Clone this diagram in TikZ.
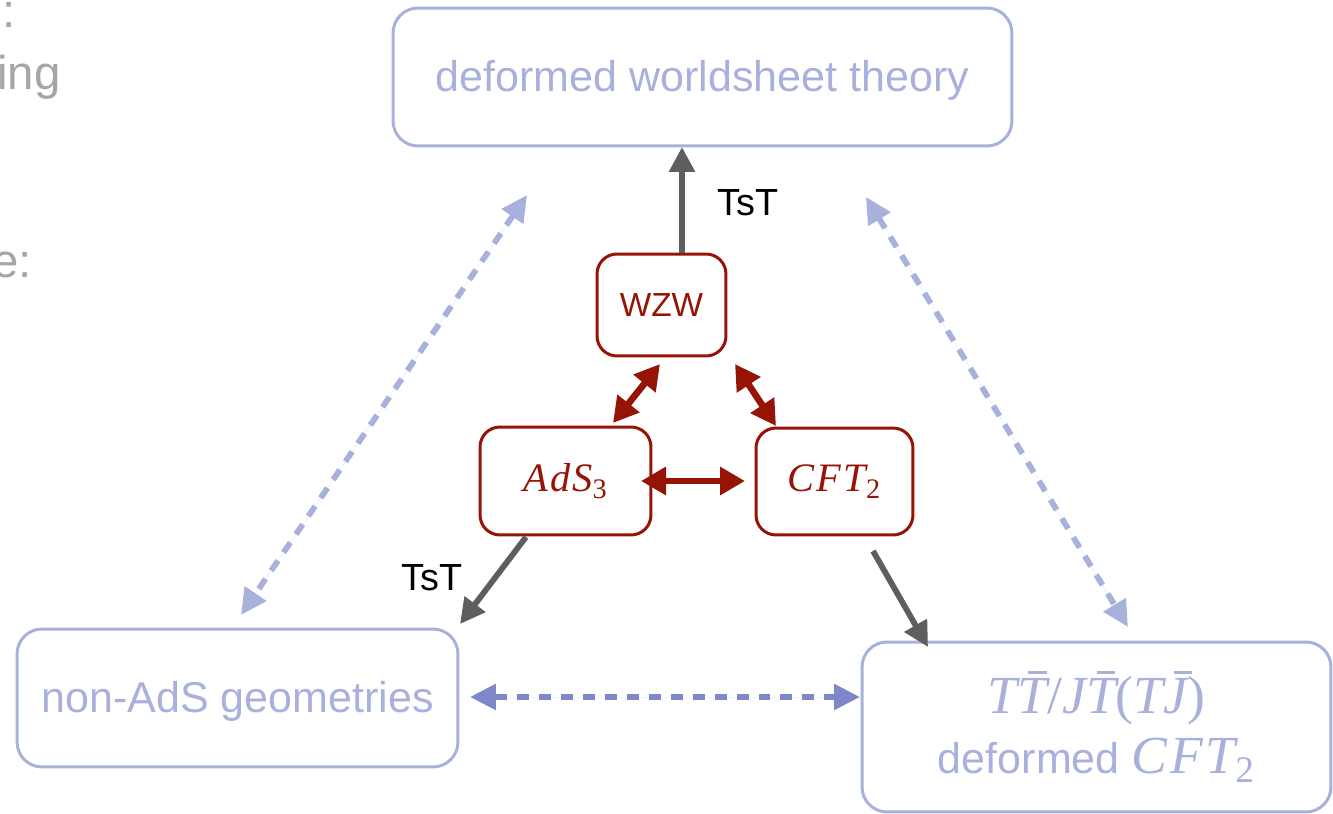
\documentclass[tikz,border=0pt]{standalone}
\usepackage{fontspec}
\setmainfont{Liberation Sans}
\newfontfamily\tmsfont[LetterSpace=5]{Liberation Serif}
\usetikzlibrary{arrows.meta}
\definecolor{lightbox}{RGB}{168,176,220}
\definecolor{linkblue}{RGB}{125,135,201}
\definecolor{darkred}{RGB}{150,20,5}
\definecolor{arrowgray}{RGB}{94,94,94}
\definecolor{slidegray}{RGB}{165,165,165}
\newcommand{\mth}[1]{{\tmsfont\itshape #1}}
\newcommand{\barred}[1]{\rlap{\hspace{0.2em}\rule[0.74em]{0.34em}{0.05em}}#1}

\tikzset{
  outerbox/.style={draw=lightbox, line width=1.7pt, rounded corners=0.5cm, inner sep=0pt,
    text=lightbox, align=center, font=\fontsize{24.5}{34}\selectfont},
  innerbox/.style={draw=darkred, line width=1.7pt, rounded corners=0.4cm, inner sep=0pt,
    text=darkred},
  tstarrow/.style={-{Triangle[length=0.5cm,width=0.5cm]}, line width=3.3pt, draw=arrowgray},
  redlink/.style={{Triangle[length=0.5cm,width=0.54cm]}-{Triangle[length=0.5cm,width=0.54cm]},
    line width=3.8pt, draw=darkred},
  duallink/.style={{Triangle[length=0.52cm,width=0.5cm]}-{Triangle[length=0.52cm,width=0.5cm]},
    line width=3.3pt, dash pattern=on 0.24cm off 0.2cm, draw=lightbox, fill=lightbox},
  tstlabel/.style={inner sep=0pt, font=\fontsize{21.5}{26}\selectfont},
  slidetext/.style={inner sep=0pt, text=slidegray, font=\fontsize{27}{32}\selectfont}
}

\begin{document}
\begin{tikzpicture}[x=0.02cm, y=-0.02cm]

  \useasboundingbox (0,0) rectangle (1333,814);

  \node[slidetext, anchor=base east] (clipa) at (16,28) {:};
  \node[slidetext, anchor=base east] (clipb) at (61,90) {ing};
  \node[slidetext, anchor=base east] (clipc) at (32,278) {e:};

  \node[outerbox, minimum width=12.38cm, minimum height=2.76cm, text height=17pt, text depth=0pt] (world) at (702.5,77) {deformed worldsheet theory};
  \node[outerbox, minimum width=8.82cm, minimum height=2.76cm, text height=17pt, text depth=0pt] (nonads) at (237.5,698) {non-AdS geometries};
  \node[outerbox, minimum width=9.38cm, minimum height=3.4cm] (ttbar) at (1096.5,727)
    {{\fontsize{30.5}{34}\selectfont\mth{T\barred{T}{\upshape/}J\barred{T}{\upshape(}T\barred{J}{\upshape)}}}\\
     deformed {\fontsize{30.5}{34}\selectfont\mth{CFT\textsubscript{\upshape 2}}}};

  \node[innerbox, minimum width=2.58cm, minimum height=2.04cm, font=\fontsize{19}{23}\selectfont] (wzw) at (661.5,305) {WZW};
  \node[innerbox, minimum width=3.42cm, minimum height=2.16cm, font=\fontsize{23}{27}\selectfont] (ads) at (565.5,481) {\mth{AdS\textsubscript{\upshape 3}}};
  \node[innerbox, minimum width=3.14cm, minimum height=2.14cm, font=\fontsize{23}{27}\selectfont] (cft) at (834.5,481.5) {\mth{CFT\textsubscript{\upshape 2}}};

  \coordinate (worldtip) at (682,147);
  \coordinate (adsout) at (526,537);
  \coordinate (nonadstip) at (460,624);
  \coordinate (cftout) at (873,551);
  \coordinate (ttbartip) at (928,647);

  \draw[tstarrow] (wzw.north -| worldtip) -- (worldtip);
  \draw[tstarrow] (adsout) -- (nonadstip);
  \draw[tstarrow] (cftout) -- (ttbartip);

  \node[tstlabel] (tsta) at (748,203) {TsT};
  \node[tstlabel] (tstb) at (432,578) {TsT};

  \coordinate (wzwl) at (660,364);
  \coordinate (adsu) at (613,423);
  \coordinate (wzwr) at (735,364);
  \coordinate (cftu) at (776,426);
  \coordinate (adsr) at (641,481);
  \coordinate (cftl) at (745,481);

  \draw[redlink] (wzwl) -- (adsu);
  \draw[redlink] (wzwr) -- (cftu);
  \draw[redlink] (adsr) -- (cftl);

  \coordinate (worldl) at (527,195);
  \coordinate (nonadsu) at (241,615);
  \coordinate (worldr) at (866,197);
  \coordinate (ttbaru) at (1128,627);
  \coordinate (nonadsr) at (470,697);
  \coordinate (ttbarl) at (860,697);

  \draw[duallink] (worldl) -- (nonadsu);
  \draw[duallink] (worldr) -- (ttbaru);
  \draw[duallink, draw=linkblue, fill=linkblue] (nonadsr) -- (ttbarl);

\end{tikzpicture}
\end{document}
